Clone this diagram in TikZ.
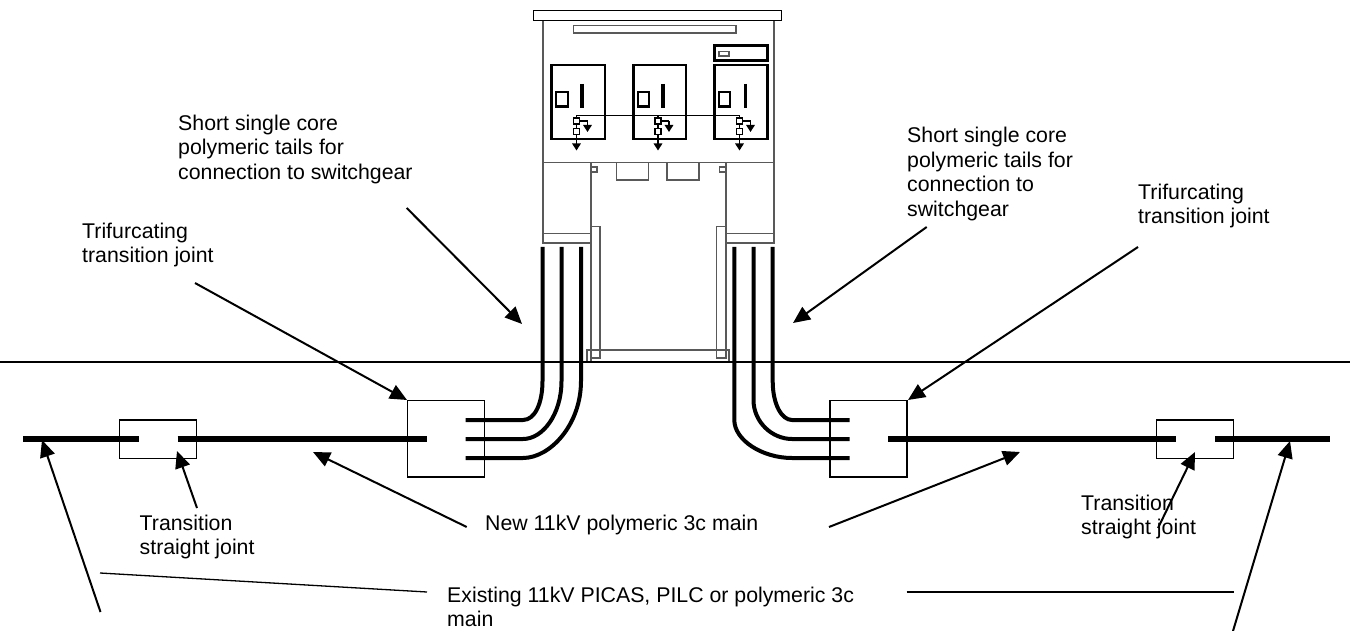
\documentclass[tikz,border=0pt]{standalone}
\usepackage{fontspec}
\setmainfont{Liberation Sans}
\usetikzlibrary{arrows.meta}
\tikzset{
  x=1pt,y=-1pt,
  thin line/.style={draw=black!65,line width=1.2pt},
  joint/.style={draw=black,line width=1.5pt,fill=none,inner sep=0pt,outer sep=0pt,minimum width=77pt},
  main/.style={line width=6pt,line cap=butt},
  core/.style={line width=4pt,line cap=butt},
  pointer/.style={line width=2pt,-{Triangle[length=17pt,width=15pt]}},
  plainline/.style={line width=1.3pt},
  panel/.style={draw=black,line width=2.4pt},
  label/.style={font=\fontsize{21.3}{24.5}\selectfont,align=left,anchor=north west,inner sep=0pt},
  mini/.style={-{Triangle[length=7pt,width=8.5pt]},line width=1.5pt},
  sq/.style={draw=black,line width=1.3pt},
}
\newcommand{\fs}{\rule{0pt}{16pt}}
\newcommand{\feeder}[1]{%
  \draw[mini] (#1,115.5) -- (#1,150.5);
  \draw[line width=1.4pt] (#1,121) -- (#1+11,121);
  \draw[mini] (#1+11,121) -- (#1+11,132);
  \filldraw[sq,fill=white] (#1-3,118) rectangle (#1+3,124);
  \filldraw[sq,fill=white] (#1-3,128.5) rectangle (#1+3,134.5);
}
\begin{document}
\begin{tikzpicture}
\useasboundingbox (0,0) rectangle (1355,631);
% cabinet
\draw[thin line] (543,20.5) rectangle (774,162.5);
\draw[draw=black,line width=1.3pt] (533.5,10.5) rectangle (781.7,20.5);
\draw[thin line] (573.5,25.5) rectangle (736,33);
\draw[panel,line width=3pt] (714,46) rectangle (767.5,61);
\draw[thin line] (719,51.5) rectangle (729,56);
\draw[panel] (551.5,65) rectangle (605,139);
\draw[panel] (633,65) rectangle (686,139);
\draw[panel] (714,65) rectangle (767.5,139);
\draw[line width=3.5pt] (633.5,65) -- (633.5,139);
\draw[line width=3.5pt] (714.5,65) -- (714.5,139);
\foreach \q in {556,637.5,718.5}{
  \draw[draw=black,line width=2pt] (\q,92) rectangle (\q+11.5,107);
  \draw[line width=3pt] (\q,106.5) -- (\q+11.5,106.5);
}
\foreach \q in {582,663,745.5}{
  \draw[line width=3.2pt] (\q,84) -- (\q,108);
}
\draw[line width=1.5pt] (576.5,115.5) -- (739.5,115.5);
\feeder{576.5}
\feeder{658}
\feeder{739.5}
% lower part
\draw[thin line] (543,162.5) -- (543,243) -- (591,243) -- (591,162.5);
\draw[thin line] (543,233.5) -- (591,233.5);
\draw[thin line] (774,162.5) -- (774,243) -- (726,243) -- (726,162.5);
\draw[thin line] (726,233.5) -- (774,233.5);
\draw[thin line] (591,167) rectangle (597,172);
\draw[thin line] (719.5,167) rectangle (726,172);
\draw[thin line] (616.5,162.5) rectangle (648.5,180);
\draw[thin line] (667,162.5) rectangle (699,180);
\draw[thin line] (591,226.5) rectangle (600,358);
\draw[thin line] (716.5,226.5) rectangle (726,358);
\draw[thin line] (587,362) -- (587,350) -- (729,350) -- (729,362);
\draw[thin line] (591,362) -- (591,358);
% ground
\coordinate (gl) at (0,362);
\coordinate (gr) at (1350,362);
\draw[line width=1.1pt] (gl) -- (gr);
% joints
\node[joint,minimum height=76.5pt] (tjl) at (446.2,438.7) {};
\node[joint,minimum height=76.5pt] (tjr) at (868.7,438.7) {};
\node[joint,minimum height=38.5pt] (sjl) at (158.2,439.2) {};
\node[joint,minimum height=38.5pt] (sjr) at (1195.2,439.2) {};
% mains
\draw[main] (23,439) -- (139,439);
\draw[main] (177.5,439) -- (427,439);
\draw[main] (888,439) -- (1176,439);
\draw[main] (1215,439) -- (1330,439);
% core left
\draw[core] (542.5,247) -- (542.5,381) .. controls (542.5,403) and (535,420) .. (523,420) -- (465.7,420);
\draw[core] (561.5,247) -- (561.5,381) .. controls (561.5,414) and (543,439) .. (523,439) -- (465.7,439);
\draw[core] (581,247) -- (581,381) .. controls (581,425) and (550,458) .. (523,458) -- (465.7,458);
% core right
\draw[core] (772.7,247) -- (772.7,381) .. controls (772.7,405) and (782,420) .. (792,420) -- (849.5,420);
\draw[core] (753.5,247) -- (753.5,400) .. controls (753.5,422) and (772,439) .. (792,439) -- (849.5,439);
\draw[core] (734.3,247) -- (734.3,420) .. controls (734.3,440) and (762,458) .. (792,458) -- (849.5,458);
% labels
\node[label] (ta) at (178,114) {\fs Short single core\\polymeric tails for\\connection to switchgear};
\node[label] (tb) at (907,126.5) {\fs Short single core\\polymeric tails for\\connection to\\switchgear};
\node[label] (tc) at (1138,183) {\fs Trifurcating\\transition joint};
\node[label] (td) at (82,222) {\fs Trifurcating\\transition joint};
\node[label] (te) at (139.5,514) {\fs Transition\\straight joint};
\node[label] (tf) at (1081,494) {\fs Transition\\straight joint};
\node[label] (tg) at (485,514) {\fs New 11kV polymeric 3c main};
\node[label] (th) at (447,586) {\fs Existing 11kV PICAS, PILC or polymeric 3c\\main};
% pointers
\coordinate (a1) at (406.7,208); \coordinate (a2) at (522,324);
\coordinate (b1) at (926.7,227); \coordinate (b2) at (793,323);
\coordinate (c1) at (1138,247); \coordinate (c2) at (908,400);
\coordinate (d1) at (195,283); \coordinate (d2) at (407,400);
\coordinate (e1) at (197,508); \coordinate (e2) at (177,451);
\coordinate (f1) at (1158,528); \coordinate (f2) at (1195,452);
\coordinate (g1) at (466.7,527); \coordinate (g2) at (313,452);
\coordinate (h1) at (829,527); \coordinate (h2) at (1020,452);
\coordinate (i1) at (100.5,612); \coordinate (i2) at (42,440);
\coordinate (j1) at (1233,631); \coordinate (j2) at (1290,441);
\coordinate (k1) at (100,573); \coordinate (k2) at (427,592);
\coordinate (l1) at (906.7,592); \coordinate (l2) at (1234,592);
\foreach \s/\t in {a1/a2,b1/b2,c1/c2,d1/d2,e1/e2,f1/f2,g1/g2,h1/h2,i1/i2,j1/j2}{
  \draw[pointer] (\s) -- (\t);
}
\draw[plainline] (k1) -- (k2);
\draw[plainline] (l1) -- (l2);
\end{tikzpicture}
\end{document}
